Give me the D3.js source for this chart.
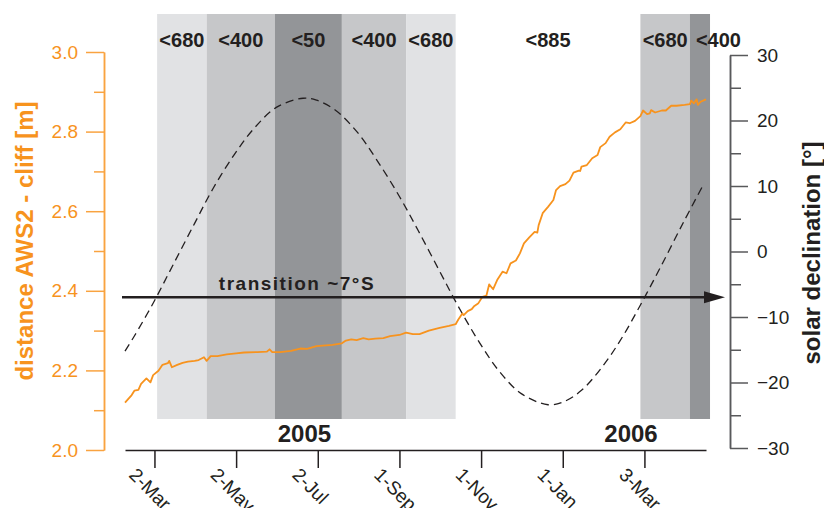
<!DOCTYPE html>
<html lang="en">
<head>
  <meta charset="UTF-8">
  <script src="https://d3js.org/d3.v7.min.js"></script>
  <style>
    body {
      margin: 0;
      padding: 0;
      background: #fff;
      font-family: "Liberation Sans", Arial, sans-serif;
    }
    .axis text { font-family: "Liberation Sans", Arial, sans-serif; }
  </style>
</head>
<body>
  <script>
    // distance AWS2 - cliff [m]
    const distDates = [
      "2005-02-08", "2005-02-13", "2005-02-15", "2005-02-18", "2005-02-20", "2005-02-24", "2005-02-27",
      "2005-03-01", "2005-03-05", "2005-03-08", "2005-03-12", "2005-03-13", "2005-03-15", "2005-03-19",
      "2005-03-23", "2005-03-27", "2005-04-01", "2005-04-04", "2005-04-08", "2005-04-10", "2005-04-13",
      "2005-04-18", "2005-04-25", "2005-05-02", "2005-05-08", "2005-05-18", "2005-05-25", "2005-05-27",
      "2005-05-29", "2005-06-04", "2005-06-12", "2005-06-19", "2005-06-24", "2005-07-01", "2005-07-13",
      "2005-07-20", "2005-07-23", "2005-07-27", "2005-07-31", "2005-08-05", "2005-08-09", "2005-08-14",
      "2005-08-20", "2005-08-25", "2005-09-01", "2005-09-06", "2005-09-11", "2005-09-16", "2005-09-23",
      "2005-10-01", "2005-10-08", "2005-10-13", "2005-10-15", "2005-10-18", "2005-10-19", "2005-10-22",
      "2005-10-25", "2005-10-27", "2005-10-30", "2005-11-02", "2005-11-05", "2005-11-07", "2005-11-10",
      "2005-11-13", "2005-11-17", "2005-11-20", "2005-11-23", "2005-11-27", "2005-11-30", "2005-12-03",
      "2005-12-07", "2005-12-11", "2005-12-13", "2005-12-14", "2005-12-17", "2005-12-21", "2005-12-25",
      "2005-12-27", "2005-12-30", "2006-01-03", "2006-01-06", "2006-01-09", "2006-01-13", "2006-01-14",
      "2006-01-15", "2006-01-19", "2006-01-23", "2006-01-27", "2006-01-29", "2006-02-02", "2006-02-05",
      "2006-02-09", "2006-02-13", "2006-02-17", "2006-02-20", "2006-02-24", "2006-02-28", "2006-03-02",
      "2006-03-05", "2006-03-07", "2006-03-08", "2006-03-11", "2006-03-16", "2006-03-19", "2006-03-23",
      "2006-03-27", "2006-04-02", "2006-04-06", "2006-04-07", "2006-04-09", "2006-04-11", "2006-04-12",
      "2006-04-14", "2006-04-18"
    ];
    const distValues = [
      2.119, 2.138, 2.149, 2.151, 2.166, 2.180, 2.170,
      2.188, 2.199, 2.214, 2.218, 2.224, 2.208, 2.214,
      2.219, 2.222, 2.224, 2.226, 2.233, 2.224, 2.236,
      2.236, 2.240, 2.243, 2.245, 2.246, 2.247, 2.253,
      2.246, 2.246, 2.249, 2.255, 2.254, 2.261, 2.264,
      2.268, 2.275, 2.278, 2.276, 2.281, 2.278, 2.280,
      2.281, 2.286, 2.289, 2.295, 2.291, 2.291, 2.300,
      2.307, 2.312, 2.316, 2.328, 2.343, 2.339, 2.349,
      2.354, 2.362, 2.369, 2.385, 2.388, 2.416, 2.404,
      2.427, 2.448, 2.444, 2.469, 2.476, 2.494, 2.519,
      2.534, 2.548, 2.546, 2.565, 2.595, 2.611, 2.628,
      2.653, 2.663, 2.668, 2.677, 2.697, 2.702, 2.701,
      2.712, 2.716, 2.733, 2.741, 2.761, 2.771, 2.787,
      2.798, 2.806, 2.823, 2.821, 2.827, 2.839, 2.853,
      2.844, 2.846, 2.854, 2.848, 2.853, 2.853, 2.865,
      2.865, 2.867, 2.869, 2.878, 2.871, 2.881, 2.867,
      2.875, 2.881
    ];

    // solar declination [deg]
    const decDates = [
      "2005-02-08", "2005-02-15", "2005-03-01", "2005-03-15", "2005-04-01", "2005-04-15",
      "2005-05-01", "2005-05-15", "2005-06-01", "2005-06-21", "2005-07-01", "2005-07-15",
      "2005-08-01", "2005-08-15", "2005-09-01", "2005-09-15", "2005-10-01", "2005-10-15",
      "2005-11-01", "2005-11-15", "2005-12-01", "2005-12-21", "2006-01-01", "2006-01-15",
      "2006-02-01", "2006-02-15", "2006-03-01", "2006-03-15", "2006-04-01", "2006-04-15"
    ];
    const decValues = [
      -15.2, -12.9, -7.9, -2.4, 4.3, 9.7,
      14.9, 18.7, 22.0, 23.4, 23.1, 21.6,
      18.1, 14.0, 8.4, 3.2, -3.0, -8.4,
      -14.3, -18.4, -21.7, -23.4, -23.0, -21.2,
      -17.2, -12.9, -7.8, -2.4, 4.4, 9.8
    ];

    // shaded periods
    const bandEdges = ["2005-03-04", "2005-04-10", "2005-05-31", "2005-07-20", "2005-09-06",
      "2005-10-13", "2006-02-28", "2006-04-06", "2006-04-21"];
    const bandLabels = ["<680", "<400", "<50", "<400", "<680", "<885", "<680", "<400"];
    const bandLevels = [1, 2, 3, 2, 1, 0, 2, 3];

    const tickDates = ["2005-03-02", "2005-05-02", "2005-07-02", "2005-09-01", "2005-11-01", "2006-01-01", "2006-03-03"];
    const yearLabels = ["2005", "2006"];
    const yearDates = ["2005-06-22", "2006-02-21"];
    const distTicks = [2.0, 2.2, 2.4, 2.6, 2.8, 3.0];
    const distMinor = [2.1, 2.3, 2.5, 2.7, 2.9];
    const decTicks = [-30, -20, -10, 0, 10, 20, 30];
    const decMinor = [-25, -15, -5, 5, 15, 25];
    const transitionDec = -7;

    const W = 824, H = 508;
    const parse = d3.utcParse("%Y-%m-%d");
    const orange = "#f7931e";
    const dark = "#231f20";
    const shades = ["#ffffff", "#e1e2e4", "#c6c7c9", "#939598"];

    const svg = d3.select("body").append("svg")
      .attr("width", W)
      .attr("height", H);

    const x = d3.scaleUtc()
      .domain([parse("2005-02-08"), parse("2006-04-18")])
      .range([125, 706]);
    const yDist = d3.scaleLinear().domain([2, 3]).range([450, 52]);
    const yDec = d3.scaleLinear().domain([-30, 30]).range([448, 55]);

    // bands
    const bands = bandLabels.map((l, i) => ({
      label: l, level: bandLevels[i],
      x0: x(parse(bandEdges[i])), x1: x(parse(bandEdges[i + 1])),
      last: i === bandLabels.length - 1
    }));

    svg.append("g").selectAll("rect")
      .data(bands.filter(d => d.level > 0))
      .enter().append("rect")
      .attr("x", d => d.x0)
      .attr("y", 14)
      .attr("width", d => d.x1 - d.x0)
      .attr("height", 405)
      .attr("fill", d => shades[d.level]);

    svg.append("g").selectAll("text")
      .data(bands)
      .enter().append("text")
      .attr("x", d => d.last ? d.x0 + 6 : (d.x0 + d.x1) / 2)
      .attr("y", 47)
      .attr("text-anchor", d => d.last ? "start" : "middle")
      .attr("font-size", 20)
      .attr("font-weight", "bold")
      .attr("fill", dark)
      .text(d => d.label);

    // solar declination
    const decLine = d3.line()
      .x(d => x(d.date))
      .y(d => yDec(d.v))
      .curve(d3.curveCatmullRom);
    svg.append("path")
      .datum(decDates.map((d, i) => ({ date: parse(d), v: decValues[i] })))
      .attr("d", decLine)
      .attr("fill", "none")
      .attr("stroke", dark)
      .attr("stroke-width", 1.3)
      .attr("stroke-dasharray", "8,5");

    // distance line
    const distLine = d3.line()
      .x(d => x(d.date))
      .y(d => yDist(d.v));
    svg.append("path")
      .datum(distDates.map((d, i) => ({ date: parse(d), v: distValues[i] })))
      .attr("d", distLine)
      .attr("fill", "none")
      .attr("stroke", orange)
      .attr("stroke-width", 1.8)
      .attr("stroke-linejoin", "round");

    // transition arrow
    const ty = yDec(transitionDec);
    svg.append("line")
      .attr("x1", 122).attr("x2", 708)
      .attr("y1", ty).attr("y2", ty)
      .attr("stroke", dark)
      .attr("stroke-width", 2.5);
    svg.append("path")
      .attr("d", `M704,${ty - 6}L725,${ty}L704,${ty + 6}Z`)
      .attr("fill", dark);
    svg.append("text")
      .attr("x", 297)
      .attr("y", ty - 7)
      .attr("text-anchor", "middle")
      .attr("font-size", 19)
      .attr("font-weight", "bold")
      .attr("letter-spacing", 1.5)
      .attr("fill", dark)
      .text("transition ~7°S");

    // year labels
    svg.append("g").selectAll("text")
      .data(yearLabels)
      .enter().append("text")
      .attr("x", (d, i) => x(parse(yearDates[i])))
      .attr("y", 442)
      .attr("text-anchor", "middle")
      .attr("font-size", 24)
      .attr("font-weight", "bold")
      .attr("fill", dark)
      .text(d => d);

    // left axis (orange)
    function styleAxis(g, lineColor, textColor) {
      g.selectAll("line, path").attr("stroke", lineColor).attr("stroke-width", 1.5);
      g.selectAll("text").attr("fill", textColor).attr("font-size", 19);
    }

    const leftAx = svg.append("g").attr("class", "axis")
      .attr("transform", "translate(104,0)")
      .call(d3.axisLeft(yDist).tickValues(distTicks).tickFormat(d3.format(".1f"))
        .tickSize(18).tickSizeOuter(0).tickPadding(8));
    const leftMinor = svg.append("g").attr("class", "axis")
      .attr("transform", "translate(104,0)")
      .call(d3.axisLeft(yDist).tickValues(distMinor).tickFormat("").tickSize(10).tickSizeOuter(0));
    styleAxis(leftAx, "#f9a340", orange);
    styleAxis(leftMinor, "#f9a340", orange);

    // right axis
    const rightAx = svg.append("g").attr("class", "axis")
      .attr("transform", "translate(730,0)")
      .call(d3.axisRight(yDec).tickValues(decTicks).tickSize(18).tickSizeOuter(0).tickPadding(9));
    const rightMinor = svg.append("g").attr("class", "axis")
      .attr("transform", "translate(730,0)")
      .call(d3.axisRight(yDec).tickValues(decMinor).tickFormat("").tickSize(11).tickSizeOuter(0));
    styleAxis(rightAx, "#58595b", dark);
    styleAxis(rightMinor, "#58595b", dark);

    // bottom axis
    const bottomAx = svg.append("g").attr("class", "axis")
      .attr("transform", "translate(0,450)")
      .call(d3.axisBottom(x).tickValues(tickDates.map(parse))
        .tickFormat(d3.utcFormat("%-d-%b")).tickSize(18).tickSizeOuter(0));
    styleAxis(bottomAx, dark, dark);
    bottomAx.selectAll("text")
      .attr("x", 0).attr("y", 0).attr("dy", 0)
      .attr("transform", "translate(-27,26) rotate(45)")
      .attr("text-anchor", "start");

    // axis titles
    svg.append("text")
      .attr("transform", "translate(33,241) rotate(-90)")
      .attr("text-anchor", "middle")
      .attr("font-size", 24)
      .attr("font-weight", "bold")
      .attr("fill", orange)
      .text("distance AWS2 - cliff [m]");
    svg.append("text")
      .attr("transform", "translate(820,253) rotate(-90)")
      .attr("text-anchor", "middle")
      .attr("font-size", 24)
      .attr("font-weight", "bold")
      .attr("fill", dark)
      .text("solar declination [°]");
  </script>
</body>
</html>
